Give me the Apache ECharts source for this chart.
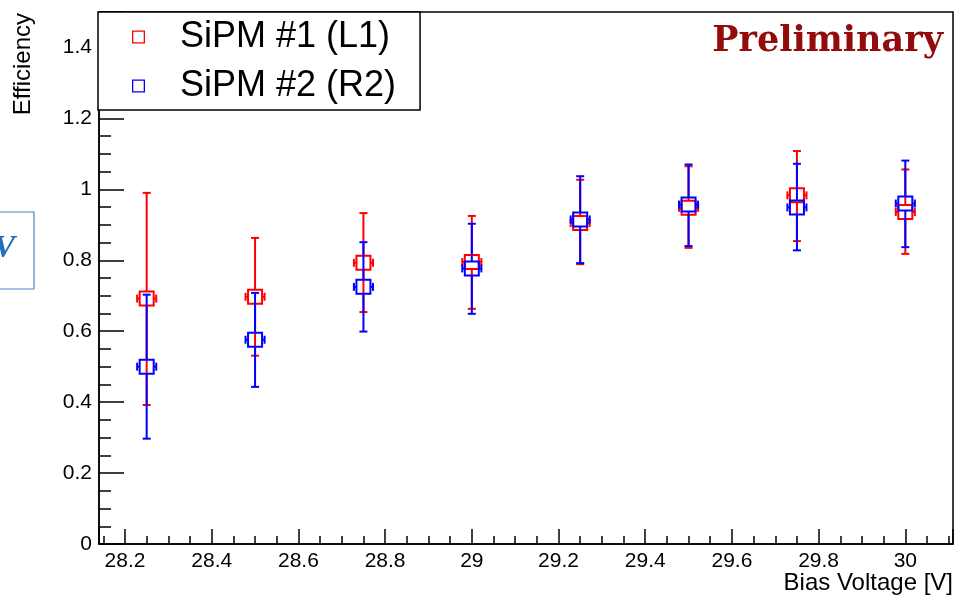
<!DOCTYPE html>
<html>
<head>
<meta charset="utf-8">
<script src="https://cdn.jsdelivr.net/npm/echarts@6/dist/echarts.min.js"></script>
<style>
html,body{margin:0;padding:0;background:#fff;}
#chart{width:958px;height:600px;}
</style>
</head>
<body>
<div id="chart"></div>
<script>
// ---- data ----
const seriesNames = ['SiPM #1 (L1)', 'SiPM #2 (R2)'];
const biasVoltage = [28.25, 28.5, 28.75, 29.0, 29.25, 29.5, 29.75, 30.0];
const voltageErr  = [0.022, 0.022, 0.022, 0.022, 0.022, 0.022, 0.022, 0.022];
const sipm1Eff  = [0.692, 0.697, 0.793, 0.795, 0.905, 0.948, 0.983, 0.936];
const sipm1Low  = [0.392, 0.531, 0.654, 0.663, 0.789, 0.835, 0.854, 0.818];
const sipm1High = [0.990, 0.863, 0.933, 0.925, 1.027, 1.065, 1.108, 1.056];
const sipm2Eff  = [0.500, 0.576, 0.725, 0.777, 0.915, 0.957, 0.949, 0.960];
const sipm2Low  = [0.297, 0.443, 0.599, 0.649, 0.792, 0.840, 0.828, 0.837];
const sipm2High = [0.703, 0.708, 0.851, 0.903, 1.037, 1.070, 1.072, 1.081];
const yTickLabels = ['0', '0.2', '0.4', '0.6', '0.8', '1', '1.2', '1.4'];
const xTickLabels = ['28.2', '28.4', '28.6', '28.8', '29', '29.2', '29.4', '29.6', '29.8', '30'];

const FONT = "'Liberation Sans', Arial, Helvetica, sans-serif";

function buildData(eff, lo, hi) {
  return biasVoltage.map((v, i) => [v, eff[i], lo[i], hi[i], voltageErr[i]]);
}

function makeRender(color) {
  return function (params, api) {
    const x = api.value(0), y = api.value(1), lo = api.value(2), hi = api.value(3), xe = api.value(4);
    const c = api.coord([x, y]);
    const cHi = api.coord([x, hi]);
    const cLo = api.coord([x, lo]);
    const cL = api.coord([x - xe, y]);
    const cR = api.coord([x + xe, y]);
    const h = 7, cap = 4, lw = 2;
    const st = { stroke: color, lineWidth: lw, fill: null };
    const ch = [];
    if (cHi[1] < c[1] - h) ch.push({ type: 'line', shape: { x1: c[0], y1: cHi[1], x2: c[0], y2: c[1] - h }, style: st });
    if (cLo[1] > c[1] + h) ch.push({ type: 'line', shape: { x1: c[0], y1: c[1] + h, x2: c[0], y2: cLo[1] }, style: st });
    ch.push({ type: 'line', shape: { x1: c[0] - cap, y1: cHi[1], x2: c[0] + cap, y2: cHi[1] }, style: st });
    ch.push({ type: 'line', shape: { x1: c[0] - cap, y1: cLo[1], x2: c[0] + cap, y2: cLo[1] }, style: st });
    ch.push({ type: 'line', shape: { x1: cL[0], y1: c[1], x2: c[0] - h, y2: c[1] }, style: st });
    ch.push({ type: 'line', shape: { x1: c[0] + h, y1: c[1], x2: cR[0], y2: c[1] }, style: st });
    ch.push({ type: 'line', shape: { x1: cL[0], y1: c[1] - cap, x2: cL[0], y2: c[1] + cap }, style: st });
    ch.push({ type: 'line', shape: { x1: cR[0], y1: c[1] - cap, x2: cR[0], y2: c[1] + cap }, style: st });
    ch.push({ type: 'rect', shape: { x: c[0] - h, y: c[1] - h, width: 2 * h, height: 2 * h }, style: st });
    return { type: 'group', children: ch };
  };
}

const chart = echarts.init(document.getElementById('chart'), null, { renderer: 'canvas' });
const squareIcon = 'path://M0,0H10V10H0Z M1,1V9H9V1H1Z';

const option = {
  animation: false,
  backgroundColor: '#ffffff',
  grid: { left: 99, right: 5, top: 12, bottom: 56, show: true, borderColor: '#000', borderWidth: 1.5, backgroundColor: 'transparent' },
  xAxis: {
    type: 'value', min: 28.14, max: 30.11, splitNumber: 10,
    axisLine: { show: true, lineStyle: { color: '#000', width: 1.5 } },
    axisTick: { show: true, inside: true, length: 15, lineStyle: { color: '#000', width: 1.5 } },
    minorTick: { show: true, splitNumber: 4, length: 8, lineStyle: { color: '#000', width: 1.5 } },
    splitLine: { show: false },
    axisLabel: {
      showMinLabel: false, showMaxLabel: false, margin: 7,
      fontFamily: FONT, fontSize: 21, color: '#000',
      formatter: function (v) { const s = String(Math.round(v * 10) / 10); return xTickLabels.indexOf(s) >= 0 ? s : ''; }
    }
  },
  yAxis: {
    type: 'value', min: 0, max: 1.5, interval: 0.2,
    axisLine: { show: true, lineStyle: { color: '#000', width: 1.5 } },
    axisTick: { show: true, inside: true, length: 25, lineStyle: { color: '#000', width: 1.5 } },
    minorTick: { show: true, splitNumber: 4, length: 12, lineStyle: { color: '#000', width: 1.5 } },
    splitLine: { show: false },
    axisLabel: {
      showMaxLabel: false, margin: 7,
      fontFamily: FONT, fontSize: 21, color: '#000',
      formatter: function (v) { const s = String(Math.round(v * 10) / 10); return yTickLabels.indexOf(s) >= 0 ? s : ''; }
    }
  },
  legend: {
    left: 98, top: 12, orient: 'vertical',
    selectedMode: false,
    itemWidth: 13, itemHeight: 13, itemGap: 9,
    padding: [5, 24, 4, 34],
    borderColor: '#000', borderWidth: 1.5, backgroundColor: '#fff',
    textStyle: { fontFamily: FONT, fontSize: 36, color: '#000', lineHeight: 40, padding: [0, 0, 0, 30] },
    data: [
      { name: seriesNames[0], icon: squareIcon },
      { name: seriesNames[1], icon: squareIcon }
    ]
  },
  graphic: [
    { type: 'text', x: 943, y: 42, z: 10, style: { text: 'Preliminary', fontFamily: "'DejaVu Serif', serif", fontWeight: 'bold', fontSize: 35, fill: '#930b0b', align: 'right', verticalAlign: 'middle' } },
    { type: 'text', x: 23, y: 13, rotation: Math.PI / 2, z: 10, style: { text: 'Efficiency', fontFamily: FONT, fontSize: 24, fill: '#000', align: 'right', verticalAlign: 'middle' } },
    { type: 'text', x: 953, y: 583, z: 10, style: { text: 'Bias Voltage [V]', fontFamily: FONT, fontSize: 24, fill: '#000', align: 'right', verticalAlign: 'middle' } },
    { type: 'rect', z: 10, shape: { x: -2, y: 212, width: 36, height: 77 }, style: { fill: 'none', stroke: '#4a88c8', lineWidth: 1.2 } },
    { type: 'text', x: 15, y: 249, z: 10, style: { text: 'V', fontFamily: "'Liberation Serif', serif", fontStyle: 'italic', fontWeight: 'bold', fontSize: 32, fill: '#1f6fc0', align: 'right', verticalAlign: 'middle' } }
  ],
  series: [
    {
      name: seriesNames[0], type: 'custom', itemStyle: { color: '#ff0000' },
      encode: { x: 0, y: 1 }, renderItem: makeRender('#ff0000'),
      data: buildData(sipm1Eff, sipm1Low, sipm1High), z: 2
    },
    {
      name: seriesNames[1], type: 'custom', itemStyle: { color: '#0000ff' },
      encode: { x: 0, y: 1 }, renderItem: makeRender('#0000ff'),
      data: buildData(sipm2Eff, sipm2Low, sipm2High), z: 3
    }
  ]
};
chart.setOption(option);
</script>
</body>
</html>
